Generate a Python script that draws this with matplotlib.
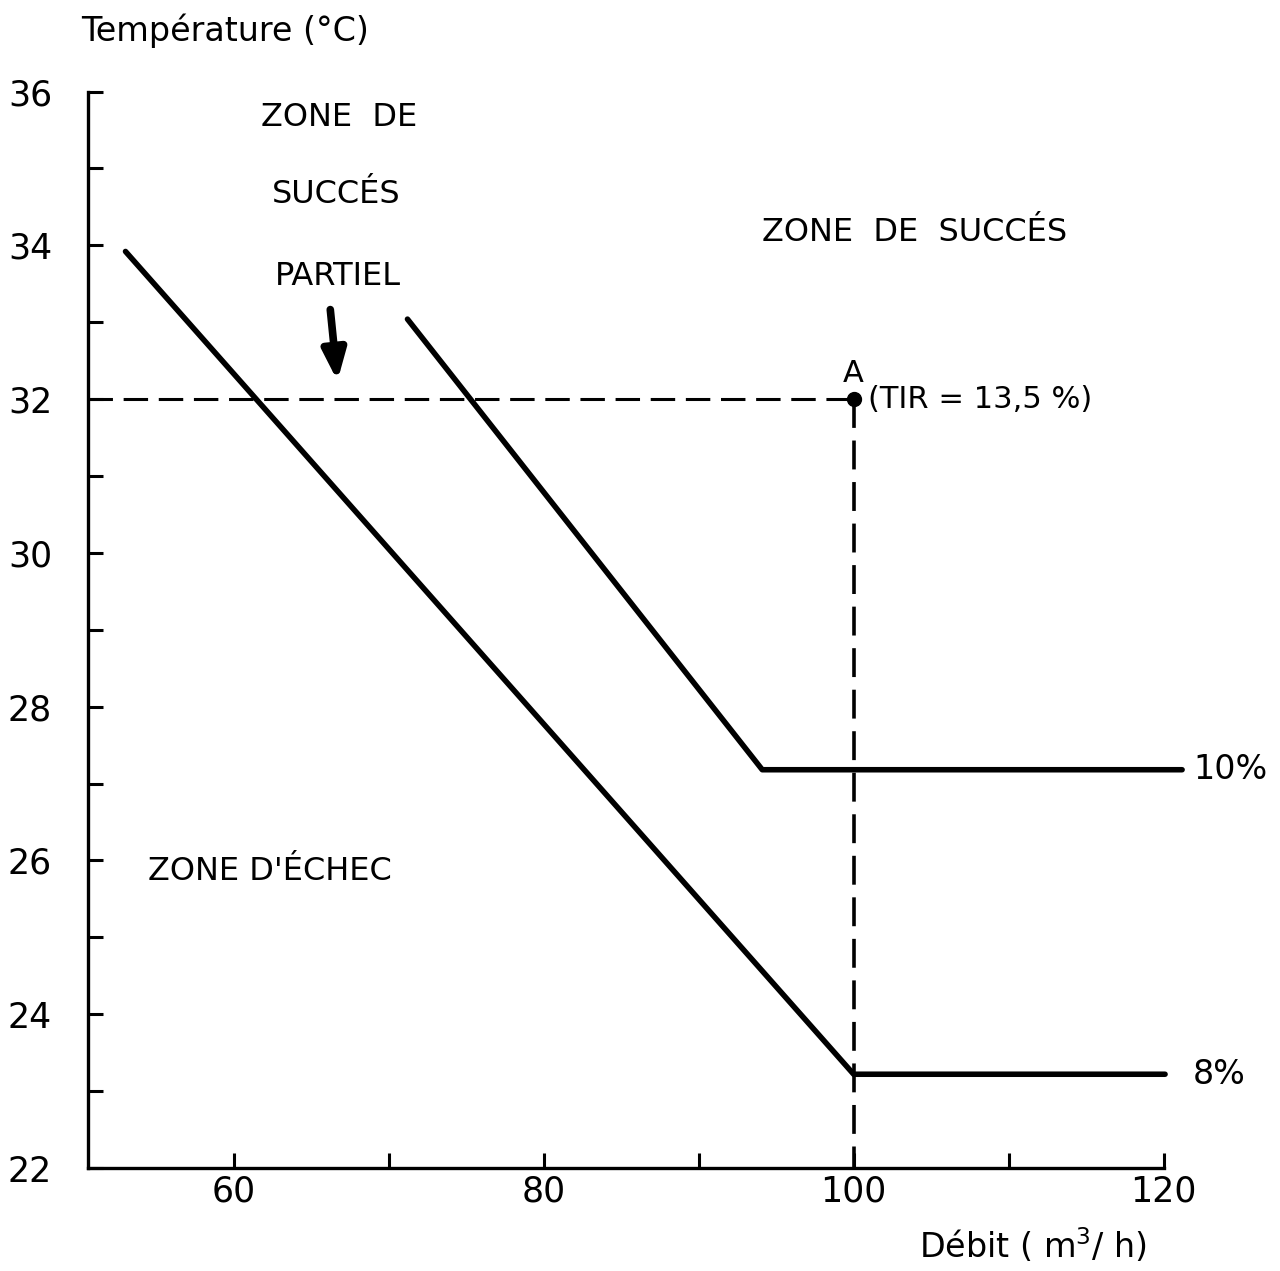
import matplotlib
matplotlib.use('Agg')
import matplotlib.pyplot as plt

# Data
debit_8 = [53.0, 100.0, 120.1]
temp_8 = [33.92, 23.22, 23.22]
debit_10 = [71.2, 94.1, 121.2]
temp_10 = [33.04, 27.18, 27.18]
point_a = (100, 32)

x_major = [60, 80, 100, 120]
x_minor = [70, 90, 110]
y_major = [22, 24, 26, 28, 30, 32, 34, 36]
y_minor = [23, 25, 27, 29, 31, 33, 35]

plt.rcParams['font.family'] = ['DejaVu Sans']

fig = plt.figure(figsize=(12.8, 12.71), dpi=100)
ax = fig.add_axes([0.069, 0.081, 0.840, 0.847])
ax.set_xlim(50.6, 120)
ax.set_ylim(22, 36)

for s in ['top', 'right']:
    ax.spines[s].set_visible(False)
for s in ['left', 'bottom']:
    ax.spines[s].set_linewidth(2.4)

ax.set_xticks(x_major)
ax.set_xticks(x_minor, minor=True)
ax.set_yticks(y_major)
ax.set_yticks(y_minor, minor=True)
ax.tick_params(which='both', direction='in', length=11, width=2.2, labelsize=25)
ax.tick_params(axis='y', which='major', pad=26)
ax.tick_params(axis='x', which='major', pad=5)

# curves
ax.plot(debit_8, temp_8, color='black', lw=4.0, clip_on=False, solid_capstyle='round')
ax.plot(debit_10, temp_10, color='black', lw=4.0, clip_on=False, solid_capstyle='round')

# reference lines through point A
ax.plot([50.6, point_a[0]], [point_a[1], point_a[1]], color='black', lw=2.2, dashes=(8, 3.5))
ax.plot([point_a[0], point_a[0]], [point_a[1], 22], color='black', lw=2.6, dashes=(8, 3.5))
ax.plot(point_a[0], point_a[1], 'o', color='black', markersize=10)

ax.text(point_a[0], point_a[1] + 0.15, 'A', fontsize=22, ha='center', va='bottom')
ax.text(point_a[0] + 0.9, point_a[1], '(TIR = 13,5 %)', fontsize=22, ha='left', va='center')

ax.text(121.9, temp_10[-1], '10%', fontsize=24, ha='left', va='center')
ax.text(121.9, temp_8[-1], '8%', fontsize=24, ha='left', va='center')

ax.text(66.8, 35.66, 'ZONE  DE', fontsize=23, ha='center', va='center')
ax.text(66.6, 34.66, 'SUCCÉS', fontsize=23, ha='center', va='center')
ax.text(66.7, 33.6, 'PARTIEL', fontsize=23, ha='center', va='center')
ax.text(103.9, 34.17, 'ZONE  DE  SUCCÉS', fontsize=23, ha='center', va='center')
ax.text(62.3, 25.86, "ZONE D'ÉCHEC", fontsize=23, ha='center', va='center')

ax.annotate('', xy=(66.7, 32.2), xytext=(66.2, 33.2),
            arrowprops=dict(arrowstyle='-|>,head_width=0.7,head_length=1.8',
                            color='black', lw=5.5))

fig.text(0.176, 0.976, 'Température (°C)', fontsize=24, ha='center', va='center')
fig.text(0.807, 0.02, 'Débit ( m$^3$/ h)', fontsize=24, ha='center', va='center')

fig.savefig('out.png', dpi=100)
